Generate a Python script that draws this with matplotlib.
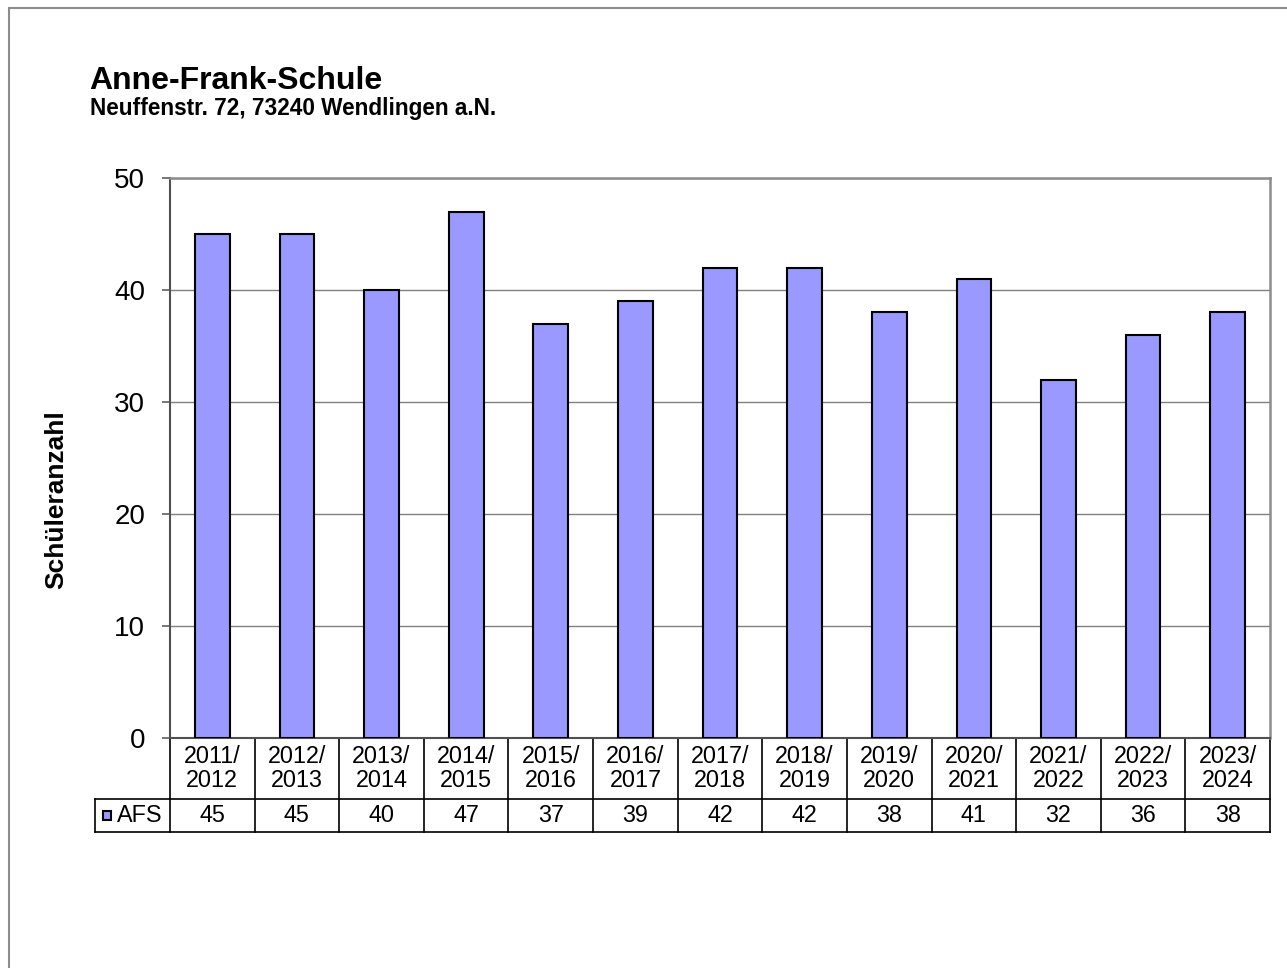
import matplotlib
matplotlib.use("Agg")
import matplotlib.pyplot as plt
from matplotlib.patches import Rectangle
from matplotlib.transforms import blended_transform_factory

# Schülerzahlen Anne-Frank-Schule
schuljahre = ["2011/\n2012", "2012/\n2013", "2013/\n2014", "2014/\n2015", "2015/\n2016",
              "2016/\n2017", "2017/\n2018", "2018/\n2019", "2019/\n2020", "2020/\n2021",
              "2021/\n2022", "2022/\n2023", "2023/\n2024"]
afs = [45, 45, 40, 47, 37, 39, 42, 42, 38, 41, 32, 36, 38]
serie = "AFS"
y_ticks = [0, 10, 20, 30, 40, 50]

plt.rcParams['font.family'] = ['Liberation Sans', 'DejaVu Sans']

W, H = 1287, 968
fig = plt.figure(figsize=(W / 100, H / 100), dpi=100)

# Pixel-Hilfen (oben links = 0,0)
def fx(px):
    return px / W

def fy(py):
    return 1 - py / H

# Plotbereich
x0, x1, ytop, ybot = 170, 1270, 178, 738
ax = fig.add_axes([fx(x0), fy(ybot), (x1 - x0) / W, (ybot - ytop) / H])

# äußerer Rahmen
fig.patches.append(Rectangle((fx(9), -0.1), 1.2, fy(8) + 0.1, transform=fig.transFigure,
                             fill=False, edgecolor='#8c8c8c', linewidth=1.5))

pos = list(range(len(afs)))
farbe = '#9999FF'
ax.bar(pos, afs, width=0.41, color=farbe, edgecolor='black', linewidth=1.5, zorder=3)

ax.set_xlim(-0.5, len(afs) - 0.5)
ax.set_ylim(0, 50)
ax.set_yticks(y_ticks)
ax.set_xticks([])
ax.yaxis.grid(True, color='#808080', linewidth=1.0)
ax.set_axisbelow(True)
ax.tick_params(axis='y', length=6, width=1.2, color='#606060', pad=12, labelsize=20)
for s in ['top', 'right']:
    ax.spines[s].set_color('#8c8c8c')
    ax.spines[s].set_linewidth(1.8)
for s in ['left', 'bottom']:
    ax.spines[s].set_color('#505050')
    ax.spines[s].set_linewidth(1.5)

# Titel
fig.text(fx(89), fy(89), "Anne-Frank-Schule", fontsize=23, fontweight='bold', va='baseline')
fig.text(fx(90), fy(115), "Neuffenstr. 72, 73240 Wendlingen a.N.", fontsize=16.3,
         fontweight='bold', va='baseline')
fig.text(fx(56), fy(500), "Schüleranzahl", fontsize=19, fontweight='bold', rotation=90,
         ha='center', va='center')

# Datentabelle unter der Achse
def ay(py):
    return (ybot - py) / (ybot - ytop)

def axx(px):
    return (px - x0) / (x1 - x0)

tr = blended_transform_factory(ax.transData, ax.transAxes)
lk = dict(color='black', linewidth=1.2, clip_on=False)
for k in range(len(afs) + 1):
    ax.plot([k - 0.5, k - 0.5], [ay(738), ay(832)], transform=tr, **lk)
ax.plot([axx(95), 1], [ay(799), ay(799)], transform=ax.transAxes, **lk)
ax.plot([axx(95), 1], [ay(832), ay(832)], transform=ax.transAxes, **lk)
ax.plot([axx(95), axx(95)], [ay(799), ay(832)], transform=ax.transAxes, **lk)

for i, (lab, v) in enumerate(zip(schuljahre, afs)):
    ax.text(i, ay(768.5), lab, transform=tr, ha='center', va='center', fontsize=16.8,
            linespacing=1.1, multialignment='center')
    ax.text(i, ay(816), str(v), transform=tr, ha='center', va='center', fontsize=16.8)

ax.add_patch(Rectangle((axx(103), ay(820)), axx(111) - axx(103), ay(811) - ay(820),
                       transform=ax.transAxes, facecolor=farbe, edgecolor='black',
                       linewidth=1.5, clip_on=False))
ax.text(axx(117), ay(816), serie, transform=ax.transAxes, ha='left', va='center', fontsize=16.8)

fig.savefig("out.png", dpi=100)
